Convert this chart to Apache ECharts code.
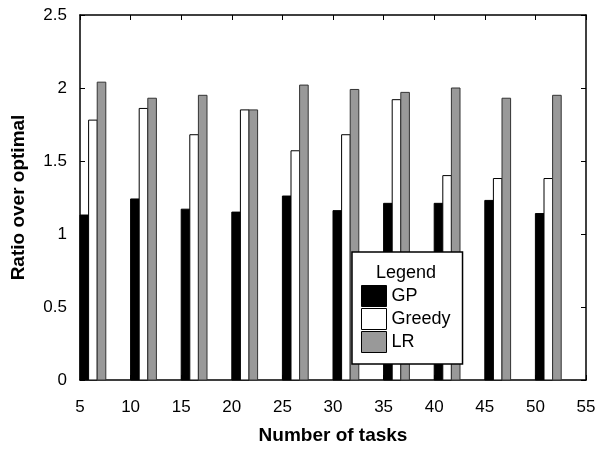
<!DOCTYPE html>
<html>
<head>
<meta charset="utf-8">
<script src="https://cdn.jsdelivr.net/npm/echarts@6/dist/echarts.min.js"></script>
<style>
html, body { margin: 0; padding: 0; background: #fff; }
#container { width: 602px; height: 450px; }
</style>
</head>
<body>
<div id="container"></div>
<script>
// number of tasks (x) and ratio over optimal for each method
var tasks = [5, 10, 15, 20, 25, 30, 35, 40, 45, 50];
var gp     = [1.13, 1.24, 1.17, 1.15, 1.26, 1.16, 1.21, 1.21, 1.23, 1.14];
var greedy = [1.78, 1.86, 1.68, 1.85, 1.57, 1.68, 1.92, 1.40, 1.38, 1.38];
var lr     = [2.04, 1.93, 1.95, 1.85, 2.02, 1.99, 1.97, 2.00, 1.93, 1.95];
var xTicks = { min: 5, max: 55, interval: 5 };
var yTicks = { min: 0, max: 2.5, interval: 0.5 };

var font = 'Liberation Sans, Arial, Helvetica, sans-serif';
var barW = 0.85; // width of one bar, in tasks units

function pairs(vals) {
	var arr = [];
	for (var i = 0; i < tasks.length; ++i) arr.push([tasks[i], vals[i]]);
	return arr;
}

function makeSeries(name, vals, k, fill, stroke) {
	return {
		name: name,
		type: 'custom',
		itemStyle: { color: fill, borderColor: stroke, borderWidth: 1 },
		encode: { x: 0, y: 1 },
		data: pairs(vals),
		renderItem: function(params, api) {
			var t = api.value(0);
			var p1 = api.coord([t + k * barW, api.value(1)]);
			var p2 = api.coord([t + (k + 1) * barW, 0]);
			return {
				type: 'rect',
				shape: { x: p1[0], y: p1[1], width: p2[0] - p1[0], height: p2[1] - p1[1] },
				style: { fill: fill, stroke: stroke, lineWidth: 1 }
			};
		}
	};
}

var myChart = echarts.init(document.getElementById('container'), null, { renderer: 'canvas' });

var axisLine = { show: true, onZero: false, lineStyle: { color: '#000', width: 1.5 } };
var tick = { show: true, inside: true, length: 5, lineStyle: { color: '#000', width: 1 } };

var option = {
	animation: false,
	backgroundColor: '#fff',
	textStyle: { fontFamily: font },
	grid: { left: 80, right: 16, top: 15, bottom: 67, containLabel: false },
	xAxis: [
		{
			type: 'value', min: xTicks.min, max: xTicks.max, interval: xTicks.interval,
			name: 'Number of tasks', nameLocation: 'middle', nameGap: 46,
			nameTextStyle: { fontSize: 19, fontWeight: 'bold', color: '#000', fontFamily: font },
			axisLine: axisLine, axisTick: tick,
			axisLabel: { fontSize: 17, color: '#000', margin: 19, fontFamily: font },
			splitLine: { show: false }
		},
		{
			type: 'value', position: 'top', min: xTicks.min, max: xTicks.max, interval: xTicks.interval,
			axisLine: axisLine, axisTick: tick, axisLabel: { show: false }, splitLine: { show: false }
		}
	],
	yAxis: [
		{
			type: 'value', min: yTicks.min, max: yTicks.max, interval: yTicks.interval,
			name: 'Ratio over optimal', nameLocation: 'middle', nameGap: 52,
			nameTextStyle: { fontSize: 19, fontWeight: 'bold', color: '#000', fontFamily: font },
			axisLine: axisLine, axisTick: tick,
			axisLabel: { fontSize: 17, color: '#000', margin: 13, fontFamily: font },
			splitLine: { show: false }
		},
		{
			type: 'value', position: 'right', min: yTicks.min, max: yTicks.max, interval: yTicks.interval,
			axisLine: axisLine, axisTick: tick, axisLabel: { show: false }, splitLine: { show: false }
		}
	],
	legend: {
		orient: 'vertical',
		left: 352, top: 252,
		padding: [33, 12, 11, 9],
		itemWidth: 25, itemHeight: 21, itemGap: 1,
		backgroundColor: '#fff',
		borderColor: '#000', borderWidth: 1.5,
		icon: 'rect',
		textStyle: { fontSize: 18, color: '#000', fontFamily: font },
		data: [
			{ name: 'GP', itemStyle: { color: '#000', borderColor: '#000', borderWidth: 1 } },
			{ name: 'Greedy', itemStyle: { color: '#fff', borderColor: '#000', borderWidth: 1 } },
			{ name: 'LR', itemStyle: { color: '#999', borderColor: '#000', borderWidth: 1 } }
		]
	},
	graphic: [
		{
			type: 'text', left: 376, top: 264, z: 100,
			style: { text: 'Legend', font: '18px ' + font, fill: '#000' }
		}
	],
	series: [
		makeSeries('GP', gp, 0, '#000', '#000'),
		makeSeries('Greedy', greedy, 1, '#fff', '#000'),
		makeSeries('LR', lr, 2, '#999', '#333')
	]
};
myChart.setOption(option);
</script>
</body>
</html>
